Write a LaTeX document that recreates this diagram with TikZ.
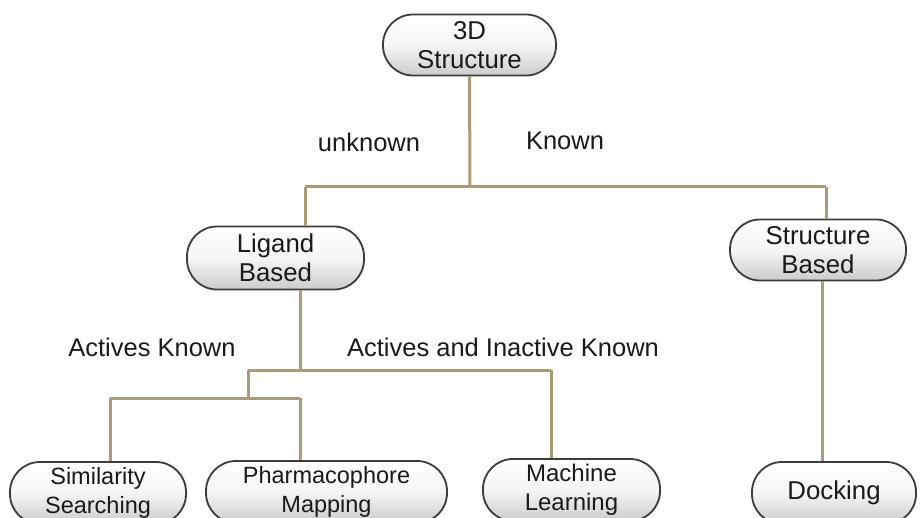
\documentclass[tikz,border=0pt]{standalone}
\usepackage{fontspec}
\setmainfont{Liberation Sans}
\definecolor{linkc}{RGB}{170,156,118}
\definecolor{edgec}{RGB}{60,60,60}
\definecolor{txtc}{RGB}{25,25,30}
\begin{document}
\begin{tikzpicture}[x=1pt,y=-1pt,
  box/.style={draw=edgec, line width=1.8pt, rounded corners=30pt,
    top color=white, bottom color=black!20, middle color=black!4,
    align=center, text=txtc, inner sep=0pt,
    font=\fontsize{23.5}{29.5}\selectfont},
  bigbox/.style={box, font=\fontsize{25.8}{29.5}\selectfont},
  link/.style={draw=linkc, line width=3pt},
  lbl/.style={text=txtc, font=\fontsize{25.5}{29}\selectfont, inner sep=0pt}]
\useasboundingbox (0,0) rectangle (920,518);
\clip (0,0) rectangle (920,518);
\fill[white] (0,0) rectangle (920,518);

% coordinates of junctions
\coordinate (b1) at (470,187);
\coordinate (b1L) at (305,187);
\coordinate (b1R) at (826,187);
\coordinate (l1) at (300,370);
\coordinate (l2a) at (248,370);
\coordinate (l2b) at (551,370);
\coordinate (l3) at (248,398);
\coordinate (l3a) at (110,398);
\coordinate (l3b) at (300,398);
\coordinate (d1) at (822,300);

% nodes
\node[bigbox, minimum width=173pt, minimum height=61pt] (top) at (469.5,45) {3D\\Structure};
\node[bigbox, minimum width=177pt, minimum height=63pt] (lig) at (275.5,258) {Ligand\\Based};
\node[bigbox, minimum width=176pt, minimum height=61pt] (sb) at (818,250) {Structure\\Based};
\node[box, minimum width=176pt, minimum height=62pt] (sim) at (98,493) {Similarity\\Searching};
\node[box, minimum width=241pt, minimum height=62pt] (pha) at (326.5,492) {Pharmacophore\\Mapping};
\node[box, font=\fontsize{24}{29.5}\selectfont, minimum width=177pt, minimum height=62pt] (ml) at (571.5,490) {Machine\\Learning};
\node[bigbox, minimum width=164pt, minimum height=62pt] (dock) at (834,493) {Docking};

% connectors
\draw[link] (top.south) -- (b1);
\draw[link] (b1L) -- (b1R);
\draw[link] (b1L) -- (b1L |- lig.north);
\draw[link] (b1R) -- (b1R |- sb.north);
\draw[link] (l1 |- lig.south) -- (l1);
\draw[link] (l2a) -- (l2b);
\draw[link] (l2a) -- (l3);
\draw[link] (l3a) -- (l3b);
\draw[link] (l3a) -- (l3a |- sim.north);
\draw[link] (l3b) -- (l3b |- pha.north);
\draw[link] (l2b) -- (l2b |- ml.north);
\draw[link] (d1 |- sb.south) -- (d1 |- dock.north);

% labels
\node[lbl] (unk) at (369,142) {unknown};
\node[lbl] (kn) at (565,141) {Known};
\node[lbl] (ak) at (152,347) {Actives Known};
\node[lbl] (aik) at (503,347) {Actives and Inactive Known};
\end{tikzpicture}
\end{document}
